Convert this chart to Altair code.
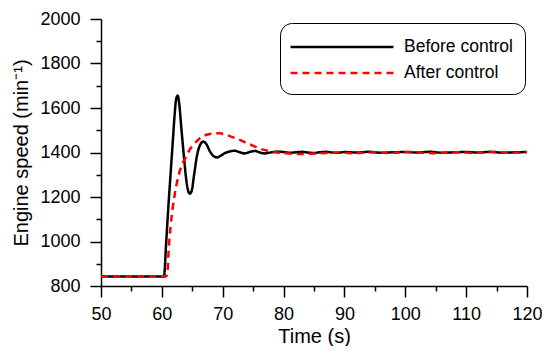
import altair as alt
import pandas as pd

series = ["Before control", "After control"]

t_before = [50, 55, 60.35, 60.7, 61.0, 61.4, 61.8, 62.1, 62.35, 62.6, 62.85, 63.2, 63.6, 64.0,
            64.3, 64.6, 64.9, 65.3, 65.8, 66.3, 66.8, 67.3, 67.9, 68.5, 69.1, 69.7, 70.4,
            71.2, 72.0, 72.8, 73.6, 74.5, 75.3, 76.1, 76.9, 78, 79, 80, 81, 82, 83, 84, 85,
            86, 87, 88, 89, 90, 92, 94, 96, 98, 100, 102, 104, 106, 108, 110, 112, 114, 116, 118, 120]
v_before = [843, 843, 843, 990, 1126, 1290, 1450, 1570, 1640, 1656, 1620, 1510, 1390, 1280,
            1230, 1215, 1228, 1300, 1390, 1435, 1449, 1438, 1405, 1384, 1378, 1386, 1398,
            1405, 1408, 1401, 1396, 1403, 1407, 1400, 1396, 1401, 1404, 1402, 1399, 1401, 1403, 1400, 1398,
            1401, 1403, 1400, 1399, 1402, 1400, 1403, 1399, 1401, 1402, 1400, 1403, 1399, 1401, 1402, 1400, 1403, 1399, 1401, 1402]

t_after = [50, 55, 60.6, 60.87, 61.14, 61.42, 61.8, 62.3, 62.78, 63.3, 63.87, 64.5, 65.2, 66.0,
           66.8, 67.7, 68.6, 69.5, 70.5, 71.5, 72.5, 73.5, 74.5, 75.5, 76.5, 77.5, 78.5, 79.5,
           81, 83, 85, 87, 89, 91, 93, 95, 97, 99, 101, 103, 105, 107, 109, 111, 113, 115, 117, 120]
v_after = [843, 843, 843, 850, 973, 1064, 1155, 1240, 1300, 1345, 1375, 1410, 1435, 1458,
           1474, 1482, 1487, 1486, 1480, 1470, 1460, 1448, 1436, 1424, 1414, 1407, 1401, 1398,
           1395, 1393, 1395, 1398, 1400, 1397, 1399, 1401, 1398, 1400, 1402, 1399, 1397, 1400, 1401, 1398, 1400, 1402, 1399, 1401]

x_major = [50, 60, 70, 80, 90, 100, 110, 120]
x_minor = [55, 65, 75, 85, 95, 105, 115]
y_major = [800, 1000, 1200, 1400, 1600, 1800, 2000]
y_minor = [900, 1100, 1300, 1500, 1700, 1900]

df = pd.concat([
    pd.DataFrame({"t": t_before, "v": v_before, "series": series[0]}),
    pd.DataFrame({"t": t_after, "v": v_after, "series": series[1]}),
], ignore_index=True)

FONT = "Liberation Sans"
xscale = alt.Scale(domain=[50, 120], nice=False, zero=False)
yscale = alt.Scale(domain=[800, 2000], nice=False, zero=False)

legend = alt.Legend(title=None, orient="none", legendX=179, legendY=4,
                    strokeColor="black", cornerRadius=12, padding=12,
                    fillColor="white", symbolType="M-5,0H5", symbolSize=424,
                    symbolOffset=38, symbolStrokeWidth=2.5,
                    labelFontSize=17.5, labelFont=FONT, labelColor="black",
                    labelOffset=50, rowPadding=5, labelLimit=300)

lines = alt.Chart(df).mark_line(strokeWidth=2.5, interpolate="monotone").encode(
    x=alt.X("t:Q", scale=xscale,
            axis=alt.Axis(values=x_major, tickSize=11, orient="bottom", title="Time (s)",
                          labelPadding=8, titlePadding=3, format="d", labelFlush=False,
                          labelFontSize=18)),
    y=alt.Y("v:Q", scale=yscale,
            axis=alt.Axis(values=y_major, tickSize=11, orient="left", format="d",
                          labelFlush=False, labelFontSize=18,
                          title="Engine speed (min⁻¹)", labelPadding=10, titlePadding=8)),
    color=alt.Color("series:N", scale=alt.Scale(domain=series, range=["#000000", "#ff0000"]),
                    legend=legend),
    strokeDash=alt.StrokeDash("series:N", scale=alt.Scale(domain=series, range=[[1, 0], [7, 5]]),
                              legend=legend),
)

minor = alt.Chart(df).mark_line(opacity=0).encode(
    x=alt.X("t:Q", scale=xscale,
            axis=alt.Axis(values=x_minor, tickSize=5, orient="bottom", labels=False,
                          domain=False, title=None)),
    y=alt.Y("v:Q", scale=yscale,
            axis=alt.Axis(values=y_minor, tickSize=5, orient="left", labels=False,
                          domain=False, title=None)),
)

chart = alt.layer(lines, minor).resolve_axis(x="independent", y="independent").properties(
    width=426, height=267,
    autosize=alt.AutoSizeParams(type="none"),
    padding={"left": 93, "top": 11, "right": 15, "bottom": 60},
).configure_view(stroke=None).configure_axis(
    domainColor="black", domainWidth=1.5, tickColor="black", tickWidth=1.5,
    labelFont=FONT, labelFontSize=18, labelColor="black",
    titleFont=FONT, titleFontSize=20, titleFontWeight="normal", titleColor="black",
    grid=False,
)

chart.save("out.html", embed_options={"renderer": "svg", "actions": False})
